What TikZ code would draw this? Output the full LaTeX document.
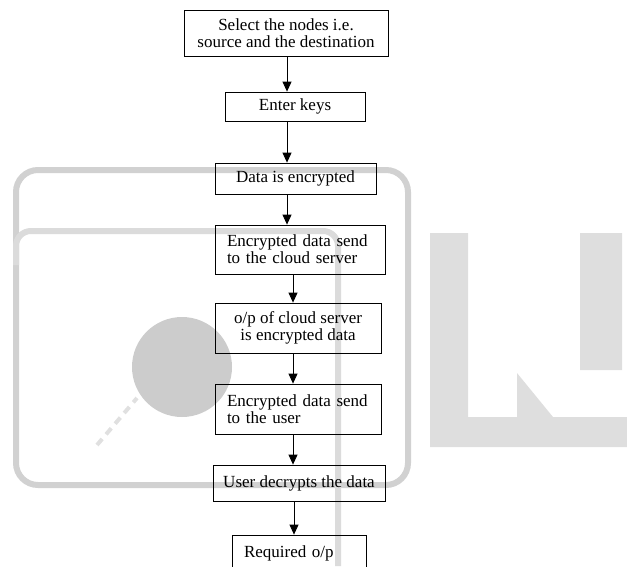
\documentclass[tikz,border=0pt]{standalone}
\usepackage{fontspec}
\setmainfont{Liberation Serif}
\usetikzlibrary{arrows.meta}

\begin{document}
\begin{tikzpicture}[x=1pt,y=-1pt,
    box/.style={draw, line width=0.8pt, inner xsep=0pt, inner ysep=0pt,
      font=\fontsize{17}{17}\selectfont},
    arr/.style={line width=0.8pt, -{Triangle[length=10pt,width=9pt]}},
    wm/.style={draw=black!18, line width=6pt}]
    \useasboundingbox (0,0) rectangle (627,566);
    \clip (0,0) rectangle (627,566);

    % watermark
    \draw[wm, rounded corners=22pt] (16,170) rectangle (408,485);
    \draw[wm, draw=black!14, rounded corners=15pt] (16,265) |- (338,231) -- (338,566);
    \fill[black!20] (182,367) circle (50);
    \draw[black!12, line width=4pt, dash pattern=on 8pt off 6pt] (97,445) -- (137,398);
    \fill[black!13] (430,233) rectangle (468,447) (430,417) rectangle (627,447)
      (580,233) rectangle (622,370);
    \fill[black!13] (517,373) -- (517,417) -- (553,417) -- cycle;

    % flow
    \node[box, minimum width=204, minimum height=46, align=center] (s1) at (286,33)
      {Select the nodes i.e.\\source and the destination};
    \node[box, minimum width=140, minimum height=29] (s2) at (295,106.5) {Enter keys};
    \node[box, minimum width=161, minimum height=31] (s3) at (295.5,178.5) {Data is encrypted};
    \node[box, minimum height=49, text width=146, inner xsep=12, align=left] (s4) at (300,249.5)
      {Encrypted data send\\to the cloud server};
    \node[box, minimum width=166, minimum height=50, align=center] (s5) at (298,328)
      {o/p of cloud server\\is encrypted data};
    \node[box, minimum height=50, text width=142, inner xsep=12, align=left] (s6) at (298,409)
      {Encrypted data send\\to the user};
    \node[box, minimum width=172, minimum height=36] (s7) at (299,483) {User decrypts the data};
    \node[box, minimum height=36, text width=110, inner xsep=12, align=left] (s8) at (299,553)
      {Required o/p};

    \coordinate (ca) at (287,0);
    \coordinate (cb) at (293,0);
    \coordinate (cc) at (294,0);
    \foreach \a/\b/\c in {s1/s2/ca, s2/s3/ca, s3/s4/ca, s4/s5/cb, s5/s6/cb, s6/s7/cb, s7/s8/cc}
    \draw[arr] (\a.south -| \c) -- (\b.north -| \c);
\end{tikzpicture}
\end{document}
